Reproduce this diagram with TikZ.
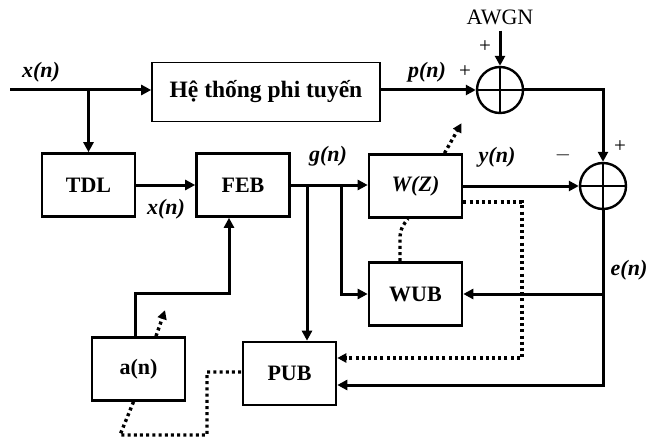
\documentclass[tikz,border=0pt]{standalone}
\usepackage{fontspec}
\setmainfont{Liberation Serif}
\usetikzlibrary{arrows.meta,calc}
\begin{document}
\begin{tikzpicture}[x=1pt,y=-1pt,
  blk/.style={draw,line width=2.6pt,minimum width=93pt,minimum height=63pt,inner sep=0pt,font=\fontsize{22}{24}\selectfont\bfseries},
  sysbox/.style={draw,line width=1.6pt,minimum width=228pt,minimum height=59pt,inner sep=0pt,font=\fontsize{23.5}{25}\selectfont\bfseries},
  summ/.style={draw,circle,line width=2.4pt,minimum size=46pt,inner sep=0pt},
  conn/.style={line width=3pt},
  arr/.style={conn,-{Triangle[length=10pt,width=10pt]}},
  dots/.style={line width=3.4pt,dash pattern=on 3pt off 3.2pt},
  lbl/.style={font=\fontsize{22}{24}\selectfont\bfseries\itshape,inner sep=0pt},
  sgn/.style={font=\fontsize{21}{23}\selectfont,inner sep=0pt}]
\useasboundingbox (0,0) rectangle (647,441);
% blocks
\node[sysbox] (sys) at (266,92) {Hệ thống phi tuyến};
\node[summ] (s1) at (500,90) {};
\node[summ] (s2) at (603,186) {};
\node[blk] (tdl) at (88.5,185) {TDL};
\node[blk] (feb) at (243,185) {FEB};
\node[blk] (wz) at (415.5,186) {\itshape W(Z)};
\node[blk] (wub) at (415.5,294) {WUB};
\node[blk] (pub) at (289.5,373.5) {PUB};
\node[blk] (an) at (138.5,369) {a(n)};
\node[font=\fontsize{22}{24}\selectfont,inner sep=0pt] (awgn) at (500,17) {AWGN};
% crosses in summers
\draw[line width=2.4pt] (s1.north) -- (s1.south) (s1.west) -- (s1.east);
\draw[line width=2.4pt] (s2.north) -- (s2.south) (s2.west) -- (s2.east);
% coordinates
\coordinate (in) at (10,90);
\coordinate (b1) at (307,185);
\coordinate (b2) at (341,185);
\coordinate (c3) at (603,385);
% main connectors
\draw[arr] (in) -- (in -| sys.west);
\draw[arr] (tdl.north |- in) -- (tdl.north);
\draw[arr] (sys.east |- s1) -- (s1.west);
\draw[arr] ([yshift=-6pt]awgn.south) -- (s1.north);
\draw[arr] (s1.east) -| (s2.north);
\draw[arr] (tdl.east) -- (feb.west);
\draw[arr] (feb.east) -- (wz.west |- feb.east);
\draw[arr] (b1) -- (b1 |- pub.north);
\draw[arr] (b2) |- (wub.west);
\draw[arr] (wz.east |- s2) -- (s2.west);
\draw[arr] (s2.south) -- (c3) -- (c3 -| pub.east);
\draw[arr] (s2.south |- wub.east) -- (wub.east);
\draw[arr] ([xshift=-3.5]an.north) -- ++(0,-43) -| ([xshift=-14]feb.south);
% dotted connectors
\draw[dots,-{Triangle[length=9pt,width=9pt]}] ([xshift=17.5]an.north) -- ++(9,-26);
\draw[dots] ([xshift=-5]an.south) -- (120,435) -- (207,435) -- (207,372) -- (pub.west |- 0,372);
\draw[dots,-{Triangle[length=9pt,width=9pt]}] ([xshift=29]wz.north) -- ++(17,-30);
\draw[dots] ([xshift=-15.5]wub.north) -- ++(0,-22) .. controls (400,228) and (404,224) .. ([xshift=-7.5]wz.south);
\draw[dots,-{Triangle[length=9pt,width=9pt]}] ([yshift=-16pt]wz.east) -- (522,202) -- (522,358) -- (pub.east |- 0,358);
% labels
\node[lbl] (lx1) at (41,72) {x(n)};
\node[lbl] (lp) at (427,72) {p(n)};
\node[lbl] (lx2) at (166,209) {x(n)};
\node[lbl] (lg) at (328,156) {g(n)};
\node[lbl] (ly) at (497,157) {y(n)};
\node[lbl] (le) at (629,270) {e(n)};
\node[sgn] (p1) at (485,47) {+};
\node[sgn] (p2) at (465,72) {+};
\node[sgn] (p3) at (620,147) {+};
\node[sgn] (m1) at (563,155) {$-$};
\end{tikzpicture}
\end{document}
